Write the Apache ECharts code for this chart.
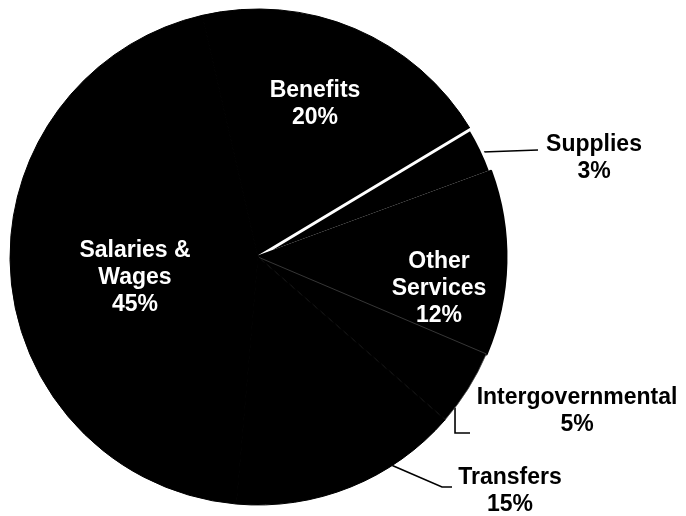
<!DOCTYPE html>
<html>
<head>
<meta charset="utf-8">
<script src="https://cdn.jsdelivr.net/npm/echarts@6/dist/echarts.min.js"></script>
<style>
  html, body { margin: 0; padding: 0; background: #fff; }
  #chart { width: 686px; height: 516px; }
</style>
</head>
<body>
<div id="chart"></div>
<script>
// Spending by category, percent of total (clockwise from the upper left)
const categories = ['Benefits', 'Supplies', 'Other Services', 'Intergovernmental', 'Transfers', 'Salaries & Wages'];
const shares = [20, 3, 12, 5, 15, 45];
// Slices whose label sits outside the pie with a leader line
const outsideLabels = ['Supplies', 'Intergovernmental', 'Transfers'];

// Pie geometry
const PIE_CENTER = [258, 257];
const PIE_RADIUS = 248;
const START_ANGLE = 103;

// Label block centres (layout only)
const labelSpots = {
  'Benefits': [315, 104],
  'Supplies': [594, 158],
  'Other Services': [439, 289],
  'Intergovernmental': [577, 411],
  'Transfers': [510, 491],
  'Salaries & Wages': [135, 278]
};
// Leader lines: where along the slice the line leaves the rim (0 = leading edge, 1 = trailing edge),
// then the bend and the end next to the label
const leaders = {
  'Supplies': { along: 0.55, bend: null, end: [538, 150] },
  'Intergovernmental': { along: 0.8, bend: 'vertical', end: [470, 433] },
  'Transfers': { along: 0.3, bend: [442, 487], end: [452, 487] }
};
const lineBreaks = { 'Other Services': 'Other\nServices', 'Salaries & Wages': 'Salaries &\nWages' };

// Per-slice edge styling (slices are painted in data order, later ones on top)
const edgeStyles = {
  'Supplies': { borderColor: '#fff', borderWidth: 3 },          // white seam next to Benefits
  'Other Services': { borderColor: '#000', borderWidth: 3 },    // hides the seam on its own side
  'Intergovernmental': { borderColor: '#444', borderWidth: 0.8 }
};

const FONT = '"Liberation Sans", Arial, sans-serif';
const total = shares.reduce(function (a, b) { return a + b; }, 0);

// Point on the rim of slice i, a given fraction of the way through it
function rimPoint(i, along) {
  let before = 0;
  for (let k = 0; k < i; k++) before += shares[k];
  const deg = START_ANGLE - (before + along * shares[i]) / total * 360;
  const rad = deg * Math.PI / 180;
  return [PIE_CENTER[0] + PIE_RADIUS * Math.cos(rad), PIE_CENTER[1] - PIE_RADIUS * Math.sin(rad)];
}

const data = categories.map(function (name, i) {
  const outside = outsideLabels.indexOf(name) >= 0;
  const item = {
    name: name,
    value: shares[i],
    label: {
      position: outside ? 'outside' : 'inside',
      color: outside ? '#000' : '#fff'
    },
    labelLine: { show: outside }
  };
  if (edgeStyles[name]) item.itemStyle = edgeStyles[name];
  return item;
});

const chart = echarts.init(document.getElementById('chart'), null, { renderer: 'canvas' });
chart.setOption({
  backgroundColor: '#fff',
  animation: false,
  series: [{
    type: 'pie',
    center: PIE_CENTER,
    radius: PIE_RADIUS,
    startAngle: START_ANGLE,
    clockwise: true,
    avoidLabelOverlap: false,
    // thin black edge so neighbouring black slices meet without a light seam
    itemStyle: { color: '#000', borderWidth: 1, borderColor: '#000' },
    emphasis: { disabled: true },
    label: {
      show: true,
      fontFamily: FONT,
      fontWeight: 'bold',
      fontSize: 23,
      lineHeight: 27,
      align: 'center',
      formatter: function (p) {
        return (lineBreaks[p.name] || p.name) + '\n' + p.value + '%';
      }
    },
    labelLine: {
      show: true,
      length: 20,
      length2: 10,
      lineStyle: { color: '#000', width: 1.6 }
    },
    labelLayout: function (p) {
      const name = categories[p.dataIndex];
      const spot = labelSpots[name];
      const out = { x: spot[0], y: spot[1], align: 'center', verticalAlign: 'middle' };
      const ld = leaders[name];
      if (ld) {
        const start = rimPoint(p.dataIndex, ld.along);
        let bend;
        if (ld.bend === 'vertical') bend = [start[0], ld.end[1]];
        else if (ld.bend) bend = ld.bend;
        else bend = [(start[0] + ld.end[0]) / 2, (start[1] + ld.end[1]) / 2];
        out.labelLinePoints = [start, bend, ld.end];
      }
      return out;
    },
    data: data
  }]
});
</script>
</body>
</html>
